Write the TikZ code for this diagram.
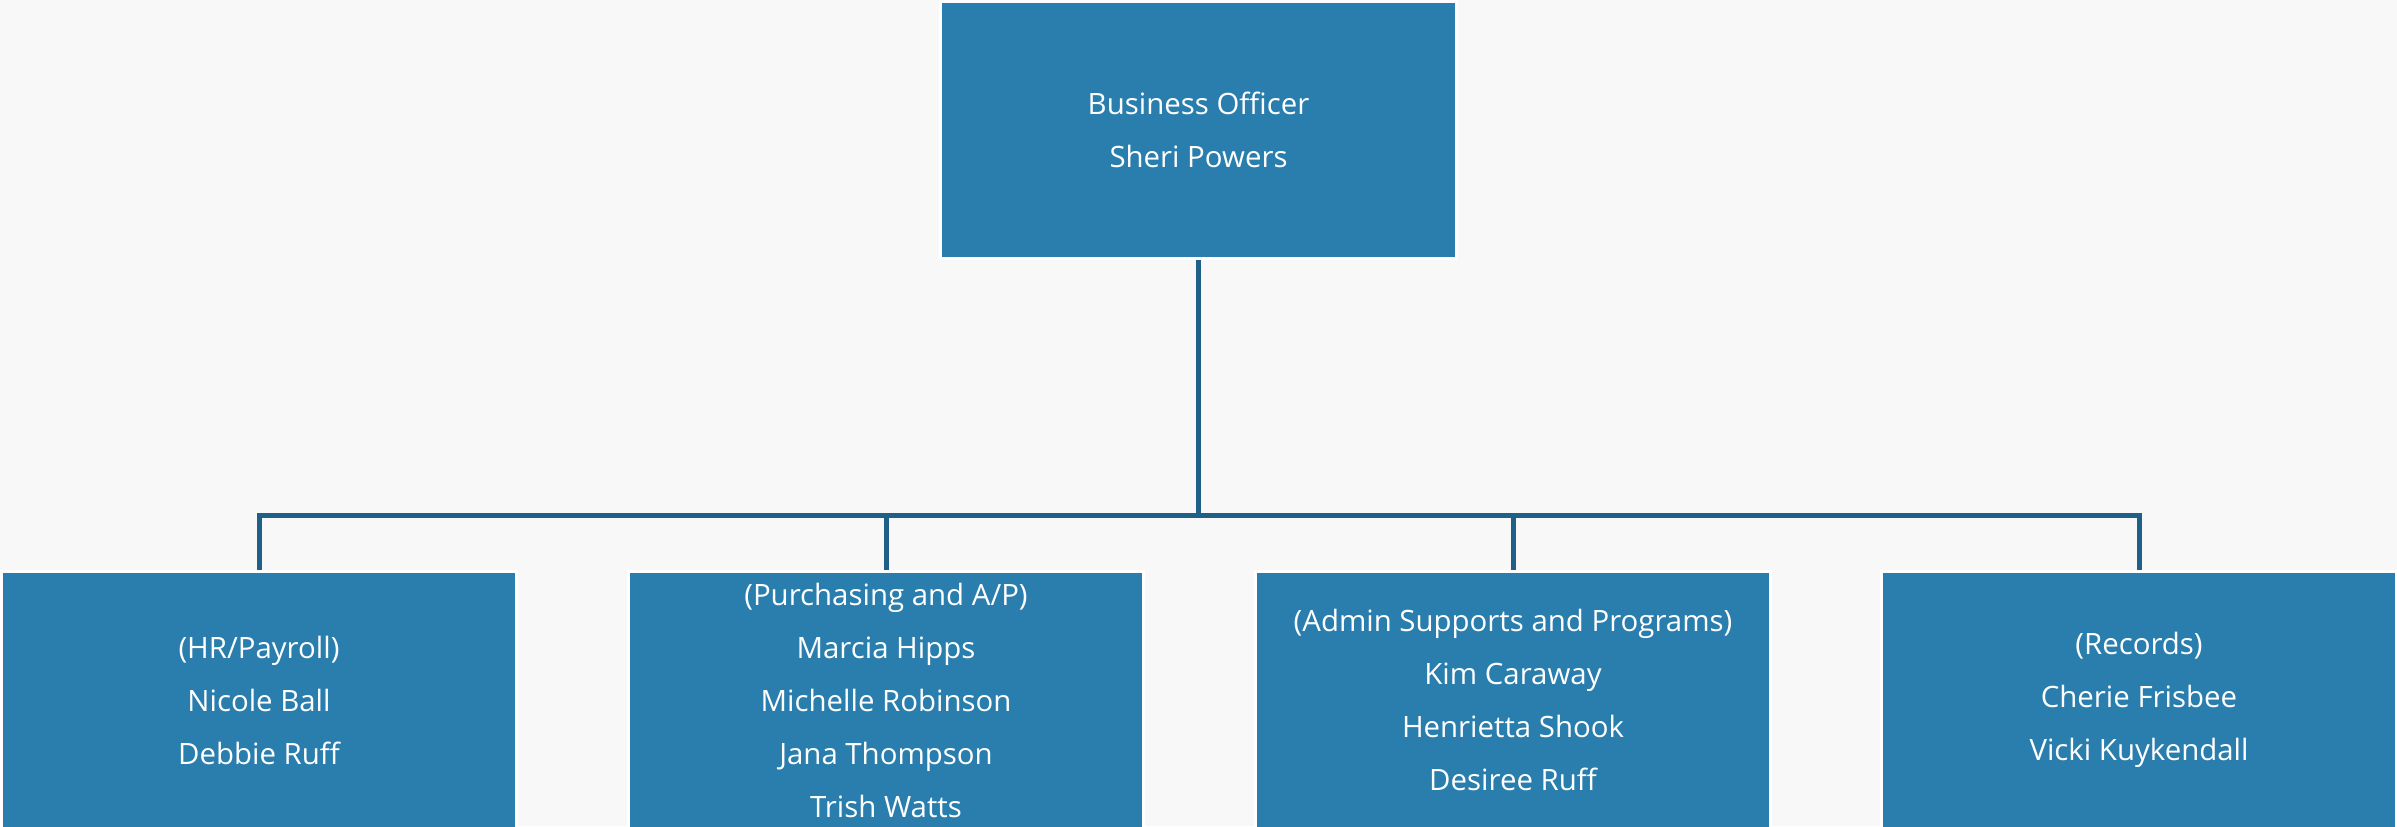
\documentclass[tikz,border=0pt]{standalone}
\usepackage{fontspec}
\setmainfont{Open Sans}
\usetikzlibrary{arrows,shapes}
\pgfdeclarelayer{background}
\pgfsetlayers{background,main}
\definecolor{pagegrey}{RGB}{248,248,248}
\definecolor{boxblue}{RGB}{41,126,174}
\definecolor{linkblue}{RGB}{31,96,137}
\tikzstyle{unit}=[rectangle,fill=boxblue,draw=white,line width=1.5pt,text=white,align=center,inner sep=0pt,font=\fontsize{14.7}{26.5}\selectfont]
\tikzstyle{head unit} = [unit, minimum width=258pt, minimum height=128.5pt]
\tikzstyle{staff unit} = [unit, minimum width=257.5pt, minimum height=128.5pt]
\tikzstyle{edge} = [draw,line width=2.5pt,color=linkblue,-]

\begin{document}
\begin{tikzpicture}[x=1pt,y=1pt]
    \useasboundingbox (0,0) rectangle (1198.5,413);
    % The business officer on top
    \node[head unit] (boss) at (599.25,348) {Business Officer\\Sheri Powers};
    % Then the four groups below
    \foreach \pos/\name/\staff in {{(129.5,63)/hr/{(HR/Payroll)\\Nicole Ball\\Debbie Ruff}},
        {(443,63)/purch/{(Purchasing and A/P)\\Marcia Hipps\\Michelle Robinson\\Jana Thompson\\Trish Watts}},
        {(756.5,63)/admin/{(Admin Supports and Programs)\\Kim Caraway\\Henrietta Shook\\Desiree Ruff}},
        {(1069.5,63)/rec/{(Records)\\Cherie Frisbee\\Vicki Kuykendall}}}
        \node[staff unit] (\name) at \pos {\staff};
    \coordinate (bus) at (599.25,155.5);
    % Connect the officer with each group
    \begin{pgfonlayer}{background}
        \fill[pagegrey] (0,0) rectangle (1198.5,413);
        \foreach \dest in {hr,purch,admin,rec}
            \path[edge] (boss.south) -- (bus) -| (\dest.north);
    \end{pgfonlayer}
\end{tikzpicture}
\end{document}
